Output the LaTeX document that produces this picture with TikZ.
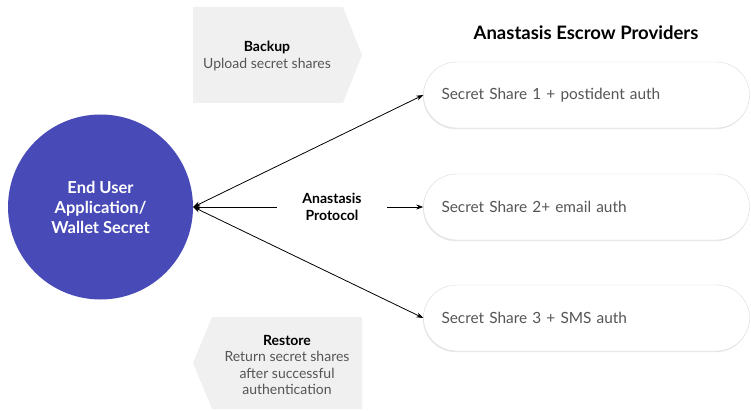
\documentclass[tikz,border=0pt]{standalone}
\usepackage{fontspec}
\setmainfont{Lato}
\usepackage{tikz}
\usetikzlibrary{arrows.meta,positioning,shadows}
\definecolor{userblue}{RGB}{72,74,184}
\definecolor{tabgrey}{RGB}{240,240,240}
\definecolor{textgrey}{RGB}{85,85,85}
\begin{document}
\begin{tikzpicture}[x=1pt,y=-1pt, >={Stealth[length=7pt,width=5pt]},
  share/.style={draw=black!14, fill=white, rounded corners=33pt, minimum height=66pt,
    text width=290pt, inner xsep=18pt, align=left, font=\fontsize{15.4}{18}\selectfont, text=textgrey,
    drop shadow={shadow xshift=-0.6pt, shadow yshift=-1.2pt, opacity=0.18}},
  tab/.style={align=center, font=\fontsize{14}{16.6}\selectfont, text=textgrey}]
\useasboundingbox (0,0) rectangle (751,411);
% user side
\node[circle, fill=userblue, minimum size=185pt, text=white, align=center,
  font=\bfseries\fontsize{16.5}{20}\selectfont] (user) at (100.5,207) {End User\\Application/\\Wallet Secret};
% providers
\node[font=\bfseries\fontsize{18.5}{21}\selectfont] (title) at (586,33) {Anastasis Escrow Providers};
\node[share] (share1) at (586.5,95) {Secret Share 1 + postident auth};
\node[share] (share2) at (586.5,207) {Secret Share 2+ email auth};
\node[share] (share3) at (586.5,318) {Secret Share 3 + SMS auth};
% backup / restore tabs
\fill[tabgrey] (193,7) -- (343,7) -- (362,55) -- (343,103) -- (193,103) -- cycle;
\node[tab] (backup) at (267,56) {\textbf{\color{black}Backup}\\Upload secret shares};
\fill[tabgrey] (212,317) -- (362,317) -- (362,409) -- (212,409) -- (193,363) -- cycle;
\node[tab] (restore) at (287,365) {\textbf{\color{black}Restore}\\Return secret shares\\after successful\\authentication};
% protocol
\node[align=center, font=\bfseries\fontsize{14}{16.5}\selectfont] (proto) at (332,207) {Anastasis\\Protocol};
\coordinate (pw) at ([xshift=-22pt]proto.west);
\coordinate (pe) at ([xshift=22pt]proto.east);
\draw[<->, line width=0.8pt] (user.east) -- (share1.west);
\draw[<->, line width=0.8pt] (user.east) -- (share3.west);
\draw[->, line width=0.8pt] (pw) -- (user.east);
\draw[->, line width=0.8pt] (pe) -- (share2.west);
\end{tikzpicture}
\end{document}
